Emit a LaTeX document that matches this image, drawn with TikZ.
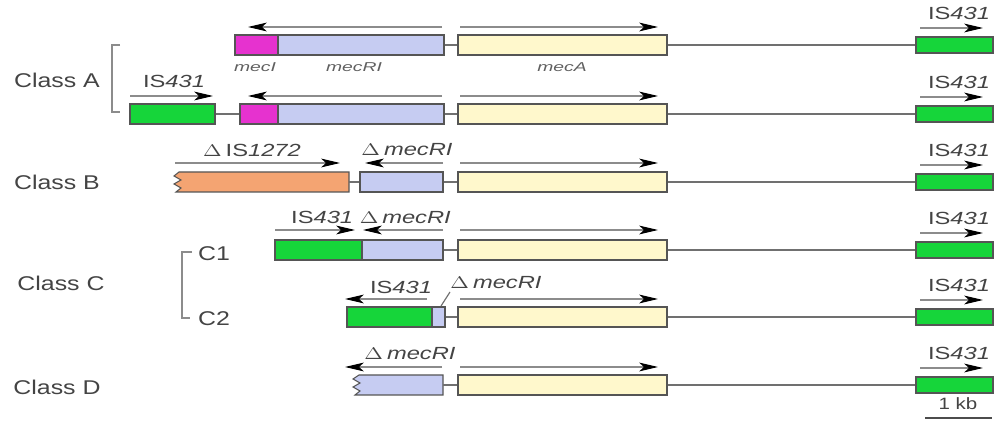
\documentclass[tikz,border=0pt]{standalone}
\usepackage{fontspec}
\setmainfont{Liberation Sans}
\usetikzlibrary{arrows.meta,fit}
\definecolor{magc}{HTML}{E632CF}
\definecolor{bluec}{HTML}{C6CCF2}
\definecolor{creamc}{HTML}{FFF8CC}
\definecolor{greenc}{HTML}{16D53A}
\definecolor{orangec}{HTML}{F4A472}
\definecolor{edgec}{HTML}{555555}
\definecolor{txtc}{HTML}{444444}
\definecolor{linec}{HTML}{707070}
\newcommand{\sxa}[1]{\scalebox{1.35}[1]{#1}}
\newcommand{\sxb}[1]{\scalebox{1.25}[1]{#1}}
\newcommand{\sxc}[1]{\scalebox{1.5}[1]{#1}}
\tikzset{
  gene/.style={draw=edgec, line width=0.9pt, inner sep=0pt},
  anch/.style={inner sep=0pt},
  link/.style={draw=linec, line width=1pt},
  arr/.style={draw=black!45, line width=0.9pt, -{Stealth[length=16pt,width=7.5pt,inset=4pt,color=black]}},
  lab/.style={text=txtc, font=\fontsize{15}{18}\selectfont, inner sep=0pt},
  clab/.style={text=txtc, font=\fontsize{17}{20}\selectfont, inner sep=0pt},
  glab/.style={text=txtc!85, font=\fontsize{11}{13}\selectfont\itshape, inner sep=0pt},
  brk/.style={draw=black!45, line width=0.9pt},
}
\begin{document}
\begin{tikzpicture}[x=0.03cm,y=-0.03cm]
\useasboundingbox (0,0) rectangle (1001,433);

% ---------- class labels ----------
\node[clab] (cA) at (57,80) {\sxb{Class A}};
\node[clab] (cB) at (57,182) {\sxb{Class B}};
\node[clab] (cC) at (61,283) {\sxb{Class C}};
\node[clab] (cD) at (57,387) {\sxb{Class D}};
\node[clab] (c1) at (214,254) {\sxb{C1}};
\node[clab] (c2) at (214,319) {\sxb{C2}};
\draw[brk] (120,45) -- (112,45) -- (112,112) -- (120,112);
\draw[brk] (192,252) -- (182,252) -- (182,318) -- (190,318);

% ---------- right IS431 column ----------
\foreach \n/\yc in {1/45,2/114,3/182,4/250,5/317,6/385}{
  \node[gene, fill=greenc, fit={(916,\yc-8) (993,\yc+8)}] (r\n) {};
  \draw[arr] (920,\yc-17) -- (983,\yc-17);
  \node[lab] (rl\n) at (959,\yc-32) {\sxa{IS\textit{431}}};
}

% ---------- mecA boxes ----------
\foreach \n/\yc/\ya in {1/45/27,2/114/96,3/182/163,4/250/230,5/317/299,6/385/367}{
  \node[gene, fill=creamc, fit={(458,\yc-10) (667,\yc+10)}] (m\n) {};
  \draw[link] (m\n.east) -- (r\n.west);
  \draw[arr] (460,\ya) -- (658,\ya);
}

% ---------- Class A row 1 ----------
\node[gene, fill=magc, fit={(235,35) (278,55)}] (a1i) {};
\node[gene, fill=bluec, fit={(278,35) (444,55)}] (a1r) {};
\draw[link] (a1r.east) -- (m1.west);
\draw[arr] (442,27) -- (248,27);
\node[glab] (g1) at (255,67) {\sxc{mecI}};
\node[glab] (g2) at (354,67) {\sxc{mecRI}};
\node[glab] (g3) at (562,67) {\sxc{mecA}};

% ---------- Class A row 2 ----------
\node[gene, fill=greenc, fit={(130,104) (215,124)}] (a2g) {};
\node[gene, fill=magc, fit={(240,104) (278,124)}] (a2i) {};
\node[gene, fill=bluec, fit={(278,104) (444,124)}] (a2r) {};
\draw[link] (a2g.east) -- (a2i.west);
\draw[link] (a2r.east) -- (m2.west);
\draw[arr] (130,96) -- (213,96);
\draw[arr] (442,96) -- (248,96);
\node[lab] (l2) at (174,81) {\sxa{IS\textit{431}}};

% ---------- Class B ----------
\node[anch, fit={(175,172) (349,192)}] (bo) {};
\draw[gene, fill=orangec] (179,172) -- (174,176) -- (181,180) -- (174,184) -- (181,188) -- (176,192)
  -- (349,192) -- (349,172) -- cycle;
\node[gene, fill=bluec, fit={(360,172) (443,192)}] (br) {};
\draw[link] (bo.east) -- (br.west);
\draw[link] (br.east) -- (m3.west);
\draw[arr] (175,163) -- (340,163);
\draw[arr] (443,163) -- (365,163);
\node[lab] (l3) at (252,150) {\sxa{$\Delta$\,IS\textit{1272}}};
\node[lab] (l4) at (407,150) {\sxa{$\Delta$\,\textit{mecRI}}};

% ---------- Class C1 ----------
\node[gene, fill=greenc, fit={(275,240) (362,260)}] (c1g) {};
\node[gene, fill=bluec, fit={(362,240) (443,260)}] (c1r) {};
\draw[link] (c1r.east) -- (m4.west);
\draw[arr] (275,230) -- (355,230);
\draw[arr] (443,230) -- (363,230);
\node[lab] (l5) at (371,217) {\sxa{IS\textit{431} $\Delta$\,\textit{mecRI}}};

% ---------- Class C2 ----------
\node[gene, fill=greenc, fit={(347,307) (432,327)}] (c2g) {};
\node[gene, fill=bluec, fit={(432,307) (445,327)}] (c2r) {};
\draw[link] (c2r.east) -- (m5.west);
\draw[arr] (427,299) -- (345,299);
\node[lab] (l6) at (401,287) {\sxa{IS\textit{431}}};
\node[lab] (l7) at (496,283) {\sxa{$\Delta$\,\textit{mecRI}}};
\draw[link] (441,306) -- (450,292);

% ---------- Class D ----------
\node[anch, fit={(355,375) (443,395)}] (dr) {};
\draw[gene, fill=bluec] (359,375) -- (353,379) -- (360,383) -- (353,387) -- (360,391) -- (355,395)
  -- (443,395) -- (443,375) -- cycle;
\draw[link] (dr.east) -- (m6.west);
\draw[arr] (442,367) -- (345,367);
\node[lab] (l8) at (410,354) {\sxa{$\Delta$\,\textit{mecRI}}};

% ---------- scale bar ----------
\node[lab, font=\fontsize{14}{16}\selectfont] (kb) at (958,404) {\sxb{1 kb}};
\draw[draw=black!70, line width=1.3pt] (925,418) -- (992,418);
\end{tikzpicture}
\end{document}
